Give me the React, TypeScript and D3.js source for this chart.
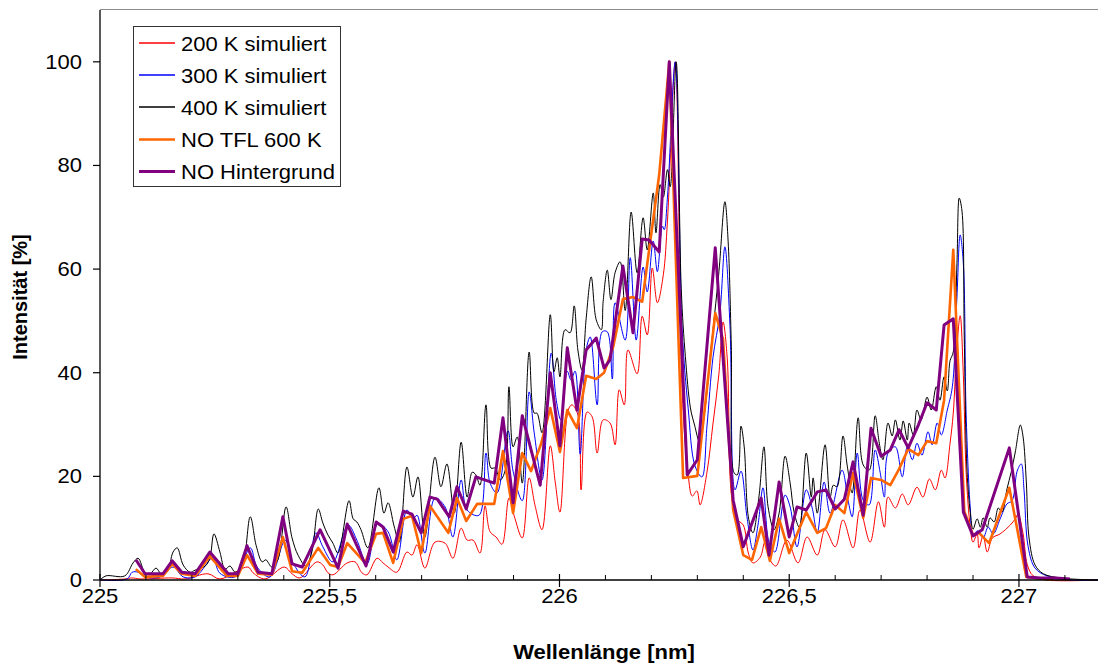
import React from "react";
import * as d3 from "d3";

// ---------- data ----------
const xTickValues = [225, 225.5, 226, 226.5, 227];
const xTickLabels = ["225", "225,5", "226", "226,5", "227"];
const yTickValues = [0, 20, 40, 60, 80, 100];
const yTickLabels = ["0", "20", "40", "60", "80", "100"];

const seriesNames = ["200 K simuliert", "300 K simuliert", "400 K simuliert", "NO TFL 600 K", "NO Hintergrund"];

const sim200K: [number, number][] = [
  [225.000, 0], [225.054, 0.2], [225.070, 0.4], [225.087, 0.2], [225.157, 0.4], [225.185, 0.2],
  [225.235, 1.2], [225.261, 0.2], [225.322, 2.5], [225.333, 1.4], [225.359, 0.2], [225.401, 2.5],
  [225.418, 1.2], [225.435, 0.4], [225.472, 3.5], [225.485, 2.9], [225.496, 1.4], [225.507, 1.0],
  [225.538, 3.3], [225.555, 3.5], [225.570, 1.4], [225.581, 1.0], [225.603, 4.2], [225.616, 3.3],
  [225.627, 2.5], [225.646, 1.5], [225.668, 5.4], [225.679, 4.8], [225.690, 6.8], [225.707, 2.3],
  [225.729, 7.3], [225.751, 7.1], [225.768, 4.2], [225.786, 10.0], [225.799, 7.7], [225.812, 7.7],
  [225.827, 5.2], [225.838, 14.3], [225.849, 9.3], [225.862, 8.3], [225.875, 6.9], [225.890, 15.8],
  [225.901, 12.5], [225.919, 8.1], [225.934, 19.7], [225.947, 14.3], [225.962, 9.7], [225.980, 25.9],
  [225.991, 18.7], [226.001, 13.1], [226.019, 32.8], [226.027, 33.8], [226.040, 31.9], [226.047, 17.4],
  [226.060, 32.4], [226.071, 31.5], [226.082, 24.5], [226.095, 30.9], [226.110, 30.3], [226.121, 26.1],
  [226.130, 36.7], [226.141, 33.8], [226.149, 44.4], [226.169, 39.8], [226.180, 50.9], [226.191, 47.3],
  [226.202, 60.2], [226.213, 53.5], [226.226, 58.9], [226.235, 69.3], [226.252, 100], [226.267, 36.5],
  [226.280, 20.3], [226.289, 16.2], [226.299, 17.2], [226.306, 14.5], [226.321, 20.8], [226.334, 30.1],
  [226.347, 39.8], [226.356, 49.8], [226.365, 42.9], [226.374, 16.6], [226.385, 11.8], [226.400, 10.6],
  [226.411, 5.2], [226.421, 3.3], [226.437, 4.4], [226.447, 7.3], [226.458, 3.9], [226.471, 2.7],
  [226.495, 7.7], [226.519, 3.3], [226.539, 8.3], [226.561, 4.8], [226.578, 9.7], [226.600, 6.4],
  [226.617, 11.6], [226.639, 6.2], [226.654, 13.5], [226.676, 7.3], [226.694, 15.1], [226.707, 10.2],
  [226.715, 16.0], [226.731, 13.9], [226.746, 16.6], [226.759, 14.5], [226.778, 17.9], [226.791, 16.0],
  [226.805, 19.5], [226.818, 17.4], [226.831, 21.2], [226.839, 19.7], [226.850, 26.4], [226.857, 32.2],
  [226.865, 45.0], [226.872, 51.0], [226.879, 39.4], [226.885, 20.8], [226.894, 10.2], [226.900, 7.3],
  [226.909, 8.9], [226.913, 6.2], [226.922, 8.5], [226.931, 5.4], [226.942, 8.1], [226.959, 8.9],
  [226.981, 10.6], [226.992, 11.8], [226.998, 12.7], [227.009, 8.9], [227.018, 3.0], [227.031, 0.8],
  [227.061, 0], [227.172, 0],
];

const sim300K: [number, number][] = [
  [225.000, 0], [225.059, 0.2], [225.070, 1.5], [225.083, 1.5], [225.098, 0.6], [225.131, 0.6],
  [225.159, 2.5], [225.181, 0.6], [225.207, 0.6], [225.239, 3.9], [225.246, 4.4], [225.261, 1.3],
  [225.294, 0.6], [225.327, 6.2], [225.342, 2.5], [225.370, 0.6], [225.403, 7.7], [225.420, 3.3],
  [225.446, 0.6], [225.470, 9.1], [225.485, 6.4], [225.507, 3.5], [225.540, 10.6], [225.559, 7.7],
  [225.581, 3.1], [225.605, 10.9], [225.627, 9.3], [225.646, 3.9], [225.668, 13.5], [225.681, 11.8],
  [225.690, 12.5], [225.707, 5.2], [225.729, 15.8], [225.751, 14.1], [225.768, 8.3], [225.786, 19.3],
  [225.799, 13.5], [225.825, 12.5], [225.840, 24.5], [225.849, 18.7], [225.864, 16.8], [225.888, 28.8],
  [225.899, 21.0], [225.919, 15.3], [225.934, 36.3], [225.945, 28.4], [225.962, 19.3], [225.982, 43.8],
  [225.993, 34.7], [226.003, 30.9], [226.017, 40.3], [226.025, 38.6], [226.034, 40.3], [226.045, 24.3],
  [226.058, 44.4], [226.067, 46.9], [226.082, 33.8], [226.093, 47.9], [226.104, 47.9], [226.115, 38.8],
  [226.121, 53.5], [226.143, 46.3], [226.154, 62.2], [226.167, 46.3], [226.182, 60.4], [226.191, 55.6],
  [226.204, 65.4], [226.213, 59.5], [226.224, 68.3], [226.228, 67.6], [226.235, 73.9], [226.252, 100],
  [226.267, 48.3], [226.280, 33.2], [226.295, 22.0], [226.310, 19.9], [226.321, 29.7], [226.334, 42.9],
  [226.349, 51.4], [226.360, 64.3], [226.371, 49.2], [226.382, 17.4], [226.395, 21.0], [226.408, 12.2],
  [226.421, 5.8], [226.432, 10.6], [226.443, 17.8], [226.456, 7.3], [226.469, 5.4], [226.491, 16.4],
  [226.502, 14.1], [226.517, 6.4], [226.537, 17.4], [226.550, 13.9], [226.561, 9.1], [226.576, 18.9],
  [226.589, 12.9], [226.615, 21.2], [226.628, 15.4], [226.637, 12.2], [226.648, 24.5], [226.661, 15.4],
  [226.674, 14.5], [226.687, 25.1], [226.698, 20.7], [226.707, 16.0], [226.715, 24.5], [226.731, 25.7],
  [226.746, 19.9], [226.757, 25.7], [226.768, 23.2], [226.778, 26.4], [226.789, 24.1], [226.802, 28.6],
  [226.811, 26.1], [226.822, 30.3], [226.831, 28.0], [226.844, 32.8], [226.855, 37.3], [226.865, 54.6],
  [226.872, 66.6], [226.879, 61.0], [226.885, 32.0], [226.894, 13.9], [226.900, 8.9], [226.911, 9.5],
  [226.922, 8.1], [226.933, 10.2], [226.944, 8.9], [226.959, 11.8], [226.974, 14.7], [226.985, 15.3],
  [226.996, 21.0], [227.005, 22.4], [227.011, 17.4], [227.020, 6.4], [227.035, 2.3], [227.061, 0.8],
  [227.118, 0], [227.172, 0],
];

const sim400K: [number, number][] = [
  [225.000, 0], [225.013, 0.8], [225.054, 0.8], [225.072, 3.3], [225.083, 4.2], [225.098, 1.4],
  [225.109, 1.2], [225.122, 2.3], [225.133, 1.2], [225.146, 1.5], [225.159, 5.4], [225.168, 6.2],
  [225.181, 2.9], [225.196, 1.5], [225.207, 1.9], [225.229, 2.7], [225.239, 4.2], [225.248, 8.9],
  [225.261, 5.4], [225.272, 2.1], [225.283, 2.7], [225.294, 1.5], [225.309, 2.5], [225.327, 12.2],
  [225.340, 6.6], [225.353, 3.5], [225.361, 3.9], [225.374, 2.5], [225.387, 3.9], [225.405, 14.1],
  [225.418, 8.1], [225.431, 4.8], [225.448, 2.7], [225.461, 5.4], [225.475, 13.7], [225.485, 11.0],
  [225.496, 8.7], [225.507, 7.1], [225.518, 5.2], [225.542, 15.3], [225.551, 11.8], [225.559, 11.2],
  [225.568, 9.7], [225.583, 6.2], [225.607, 17.8], [225.618, 12.9], [225.627, 14.9], [225.640, 10.4],
  [225.651, 7.3], [225.668, 21.8], [225.681, 16.0], [225.692, 19.9], [225.707, 8.3], [225.729, 23.7],
  [225.742, 18.0], [225.755, 22.4], [225.771, 12.9], [225.786, 26.6], [225.799, 16.0], [225.810, 20.8],
  [225.818, 20.3], [225.827, 18.3], [225.840, 33.8], [225.851, 21.6], [225.860, 21.6], [225.871, 19.3],
  [225.882, 21.2], [225.890, 37.3], [225.899, 25.7], [225.908, 27.6], [225.919, 18.7], [225.934, 44.0],
  [225.945, 32.2], [225.951, 32.2], [225.962, 28.4], [225.980, 51.2], [225.988, 40.2], [225.995, 42.9],
  [226.001, 39.2], [226.012, 48.3], [226.023, 47.7], [226.032, 52.9], [226.040, 44.4], [226.049, 40.5],
  [226.058, 50.4], [226.069, 58.5], [226.080, 50.2], [226.091, 48.3], [226.095, 53.7], [226.104, 59.8],
  [226.112, 54.1], [226.121, 59.3], [226.132, 61.4], [226.143, 52.0], [226.156, 71.0], [226.169, 59.3],
  [226.182, 69.9], [226.191, 63.7], [226.204, 74.7], [226.210, 67.0], [226.219, 76.3], [226.226, 73.9],
  [226.235, 79.2], [226.241, 75.9], [226.254, 100], [226.265, 56.2], [226.274, 43.1], [226.285, 33.2],
  [226.294, 29.9], [226.305, 26.6], [226.317, 33.2], [226.328, 43.1], [226.347, 59.5], [226.360, 73.0],
  [226.367, 65.4], [226.374, 45.0], [226.380, 20.7], [226.387, 20.3], [226.395, 29.7], [226.402, 25.7],
  [226.411, 12.2], [226.421, 9.1], [226.434, 16.0], [226.445, 25.7], [226.454, 14.1], [226.467, 9.7],
  [226.478, 12.9], [226.491, 23.9], [226.502, 18.7], [226.511, 12.9], [226.522, 10.2], [226.537, 24.5],
  [226.548, 16.0], [226.552, 19.7], [226.561, 12.9], [226.578, 26.1], [226.589, 16.0], [226.596, 18.3],
  [226.604, 18.0], [226.617, 27.8], [226.626, 22.2], [226.637, 16.8], [226.650, 31.3], [226.661, 22.2],
  [226.674, 21.2], [226.687, 31.7], [226.696, 26.4], [226.704, 23.2], [226.715, 30.3], [226.724, 27.8],
  [226.731, 30.9], [226.741, 27.0], [226.748, 30.7], [226.757, 27.0], [226.761, 30.3], [226.770, 28.0],
  [226.778, 32.8], [226.787, 30.9], [226.800, 35.3], [226.809, 32.8], [226.820, 37.3], [226.828, 34.7],
  [226.837, 39.2], [226.844, 36.5], [226.850, 42.3], [226.857, 44.0], [226.865, 61.0], [226.870, 73.7],
  [226.876, 71.2], [226.881, 46.5], [226.887, 21.0], [226.894, 13.1], [226.900, 9.8], [226.909, 11.8],
  [226.916, 10.2], [226.922, 12.0], [226.931, 10.2], [226.937, 12.0], [226.946, 11.2], [226.955, 13.9],
  [226.963, 13.1], [226.974, 17.6], [226.983, 20.8], [226.992, 24.7], [227.003, 29.9], [227.009, 27.6],
  [227.016, 18.9], [227.022, 8.1], [227.035, 2.9], [227.053, 1.2], [227.090, 0.4], [227.133, 0.1],
  [227.172, 0],
];

const noTfl600K: [number, number][] = [
  [225.078, 2.1], [225.098, 0.6], [225.137, 0.8], [225.157, 3.1], [225.178, 1.2], [225.207, 0.8],
  [225.239, 4.6], [225.276, 0.8], [225.300, 0.8], [225.320, 4.8], [225.344, 1.2], [225.374, 1.0],
  [225.398, 8.3], [225.418, 1.7], [225.440, 1.4], [225.475, 6.2], [225.501, 2.9], [225.518, 2.5],
  [225.538, 7.1], [225.577, 3.3], [225.601, 8.9], [225.616, 9.1], [225.638, 3.3], [225.660, 11.8],
  [225.679, 12.4], [225.699, 5.2], [225.718, 14.3], [225.758, 9.1], [225.777, 15.8], [225.797, 11.4],
  [225.821, 14.7], [225.858, 14.7], [225.877, 24.9], [225.899, 12.9], [225.919, 24.5], [225.938, 21.0],
  [225.960, 26.3], [225.980, 33.2], [226.001, 24.7], [226.017, 32.8], [226.038, 29.3], [226.058, 39.4],
  [226.080, 38.8], [226.097, 40.0], [226.117, 45.0], [226.138, 54.2], [226.160, 54.6], [226.180, 53.7],
  [226.217, 78.2], [226.239, 100], [226.269, 19.7], [226.300, 20.1], [226.339, 51.5], [226.356, 46.5],
  [226.378, 13.5], [226.400, 4.8], [226.419, 3.9], [226.439, 10.2], [226.458, 3.7], [226.478, 11.8],
  [226.500, 5.2], [226.537, 13.1], [226.561, 9.1], [226.580, 10.0], [226.600, 14.5], [226.620, 12.9],
  [226.639, 20.7], [226.661, 12.0], [226.678, 19.7], [226.700, 19.3], [226.720, 18.3], [226.739, 21.4],
  [226.759, 25.3], [226.781, 24.1], [226.800, 26.8], [226.820, 26.4], [226.837, 34.7], [226.857, 63.7],
  [226.881, 13.3], [226.900, 8.7], [226.913, 9.1], [226.935, 7.1], [226.979, 17.8], [227.016, 0.6],
  [227.074, 0],
];

const noHintergrund: [number, number][] = [
  [225.078, 3.9], [225.098, 1.2], [225.137, 1.2], [225.157, 3.7], [225.178, 1.5], [225.207, 1.2],
  [225.239, 5.4], [225.279, 1.2], [225.300, 1.2], [225.320, 6.6], [225.344, 1.5], [225.374, 1.2],
  [225.398, 12.2], [225.418, 3.1], [225.440, 2.5], [225.479, 9.7], [225.507, 4.4], [225.518, 2.3],
  [225.538, 10.8], [225.579, 2.7], [225.601, 11.2], [225.616, 10.2], [225.638, 5.4], [225.660, 13.3],
  [225.679, 12.7], [225.699, 9.1], [225.718, 16.0], [225.734, 15.6], [225.760, 12.2], [225.777, 18.0],
  [225.797, 13.7], [225.818, 19.9], [225.858, 18.7], [225.877, 31.3], [225.899, 14.9], [225.919, 31.7],
  [225.958, 18.3], [225.980, 40.0], [226.001, 25.9], [226.017, 44.8], [226.038, 32.8], [226.058, 44.4],
  [226.080, 46.7], [226.097, 40.9], [226.110, 42.5], [226.138, 60.6], [226.160, 47.7], [226.180, 65.8],
  [226.195, 65.6], [226.217, 63.3], [226.239, 100], [226.278, 20.3], [226.300, 23.2], [226.339, 64.1],
  [226.378, 15.4], [226.400, 6.4], [226.439, 15.8], [226.456, 4.8], [226.478, 18.9], [226.500, 8.3],
  [226.517, 14.1], [226.537, 13.5], [226.561, 17.0], [226.580, 17.4], [226.600, 13.7], [226.620, 15.6],
  [226.639, 22.8], [226.661, 12.5], [226.678, 29.3], [226.700, 23.9], [226.720, 25.1], [226.739, 29.0],
  [226.759, 25.5], [226.781, 29.9], [226.800, 34.2], [226.820, 32.8], [226.837, 49.2], [226.857, 50.4],
  [226.879, 13.1], [226.900, 8.5], [226.920, 9.7], [226.979, 25.5], [227.018, 0.6], [227.046, 0.4],
  [227.079, 0.4], [227.111, 0.2],
];

// ---------- layout ----------
const W = 1098;
const H = 663;
const left = 100;
const top = 10;
const bottom = 580;
const right = 1098;
const FONT = "'Liberation Sans', Arial, Helvetica, sans-serif";
const SX = 1.1; // horizontal stretch of the original text

const x = d3.scaleLinear().domain([225, 227.172]).range([left, right]);
const y = d3.scaleLinear().domain([0, 110]).range([bottom, top]);

const smooth = d3
  .line<[number, number]>()
  .x((d) => x(d[0]))
  .y((d) => y(d[1]))
  .curve(d3.curveCatmullRom.alpha(0.5));
const straight = d3
  .line<[number, number]>()
  .x((d) => x(d[0]))
  .y((d) => y(d[1]));

const series = [
  { name: seriesNames[0], data: sim200K, color: "#FF0000", width: 1, smooth: true },
  { name: seriesNames[1], data: sim300K, color: "#0000FF", width: 1, smooth: true },
  { name: seriesNames[2], data: sim400K, color: "#000000", width: 1, smooth: true },
  { name: seriesNames[3], data: noTfl600K, color: "#FF6600", width: 2.6, smooth: false },
  { name: seriesNames[4], data: noHintergrund, color: "#800080", width: 3, smooth: false },
];

function SText(props: {
  x: number;
  y: number;
  anchor?: string;
  size?: number;
  bold?: boolean;
  children: React.ReactNode;
}) {
  const { x: tx, y: ty, anchor = "start", size = 20, bold = false, children } = props;
  return (
    <text
      transform={`translate(${tx},${ty}) scale(${SX},1)`}
      textAnchor={anchor}
      fontFamily={FONT}
      fontSize={size}
      fontWeight={bold ? "bold" : "normal"}
      fill="#000"
    >
      {children}
    </text>
  );
}

export default function App() {
  const minorTicks = d3.range(225.1, 227.15, 0.1).filter((v) => Math.abs(v * 2 - Math.round(v * 2)) > 0.01);
  return (
    <svg
      width={W}
      height={H}
      style={{ position: "absolute", left: 0, top: 0, background: "#fff" }}
      xmlns="http://www.w3.org/2000/svg"
    >
      <defs>
        <clipPath id="plot">
          <rect x={left} y={top} width={right - left} height={bottom - top + 2} />
        </clipPath>
      </defs>
      <rect x={0} y={0} width={W} height={H} fill="#fff" />
      {/* top frame line */}
      <line x1={left} x2={right} y1={top - 0.5} y2={top - 0.5} stroke="#8c8c8c" strokeWidth={1.2} />

      {/* series */}
      <g clipPath="url(#plot)">
        {series.map((s) => (
          <path
            key={s.name}
            d={(s.smooth ? smooth : straight)(s.data) || ""}
            fill="none"
            stroke={s.color}
            strokeWidth={s.width}
            strokeLinejoin="round"
          />
        ))}
      </g>

      {/* y axis */}
      <line x1={left} x2={left} y1={top} y2={bottom} stroke="#000" strokeWidth={1.3} />
      {yTickValues.map((v, i) => (
        <g key={v}>
          <line x1={left - 7} x2={left} y1={y(v)} y2={y(v)} stroke="#000" strokeWidth={1.2} />
          <SText x={82} y={y(v) + 7} anchor="end">
            {yTickLabels[i]}
          </SText>
        </g>
      ))}

      {/* x axis */}
      <line x1={left} x2={right} y1={bottom} y2={bottom} stroke="#000" strokeWidth={1.3} />
      {minorTicks.map((v) => (
        <line key={v} x1={x(v)} x2={x(v)} y1={bottom - 5} y2={bottom} stroke="#000" strokeWidth={1} />
      ))}
      {xTickValues.map((v, i) => (
        <g key={v}>
          <line x1={x(v)} x2={x(v)} y1={bottom - 6} y2={bottom + 7} stroke="#000" strokeWidth={1.2} />
          <SText x={x(v)} y={603} anchor="middle">
            {xTickLabels[i]}
          </SText>
        </g>
      ))}

      {/* axis titles */}
      <SText x={604} y={659} anchor="middle" bold>
        Wellenlänge [nm]
      </SText>
      <text
        transform={`translate(27,297) rotate(-90)`}
        textAnchor="middle"
        fontFamily={FONT}
        fontSize={20}
        fontWeight="bold"
        fill="#000"
      >
        Intensität [%]
      </text>

      {/* legend */}
      <rect x={133.5} y={26.5} width={207} height={160} fill="#fff" stroke="#333" strokeWidth={1} />
      {series.map((s, i) => (
        <g key={"leg" + s.name}>
          <path
            d={`M139,${(s.smooth ? 43 : 43.5) + i * 32}H175`}
            fill="none"
            stroke={s.color}
            strokeWidth={s.smooth ? 1.3 : s.width}
          />
          <SText x={181} y={43.5 + i * 32 + 7}>
            {s.name}
          </SText>
        </g>
      ))}
    </svg>
  );
}
